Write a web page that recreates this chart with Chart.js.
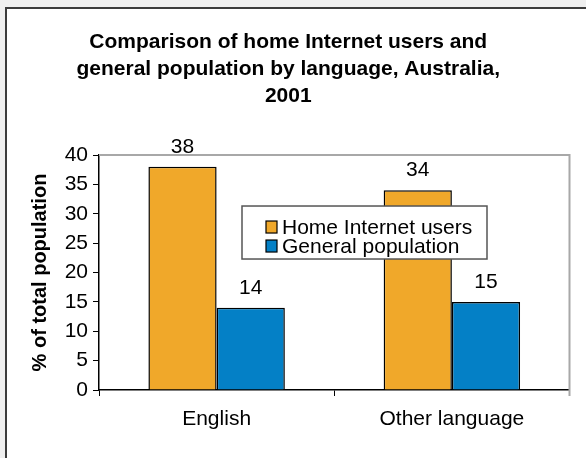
<!DOCTYPE html>
<html>
<head>
<meta charset="utf-8">
<script src="https://cdn.jsdelivr.net/npm/chart.js@4.4.1/dist/chart.umd.min.js"></script>
<style>
  body { margin: 0; background: #efefef; overflow: hidden; }
  #frame {
    position: absolute; left: 5px; top: 7px;
    width: 600px; height: 470px;
    border-left: 2px solid #3c3c3c; border-top: 2px solid #3c3c3c;
    background: #fff; overflow: hidden;
  }
  canvas { display: block; }
</style>
</head>
<body>
<div id="frame"><canvas id="chart" width="581" height="451"></canvas></div>
<script>
// Chart data
const categories = ['English', 'Other language'];
const seriesNames = ['Home Internet users', 'General population'];
const homeInternetUsers = [38, 34];
const generalPopulation = [14, 15];
const seriesColors = ['#F0A82A', '#0480C6'];
const yTicks = [0, 5, 10, 15, 20, 25, 30, 35, 40];

const titleLines = [
  'Comparison of home Internet users and',
  'general population by language, Australia,',
  '2001'
];

const FONT = "'Liberation Sans', Arial, sans-serif";

// top + right gray border of the plot area
const plotFrame = {
  id: 'plotFrame',
  afterDraw(chart) {
    const { ctx, chartArea: a } = chart;
    ctx.save();
    ctx.strokeStyle = '#a8a8a8';
    ctx.lineWidth = 2;
    ctx.beginPath();
    ctx.moveTo(a.left, a.top);
    ctx.lineTo(a.right, a.top);
    ctx.lineTo(a.right, a.bottom + 6);
    ctx.stroke();
    ctx.restore();
  }
};

// value labels above each bar
const barValues = {
  id: 'barValues',
  afterDatasetsDraw(chart) {
    const ctx = chart.ctx;
    ctx.save();
    ctx.font = '21px ' + FONT;
    ctx.fillStyle = '#000';
    ctx.textAlign = 'center';
    ctx.textBaseline = 'middle';
    chart.data.datasets.forEach((ds, i) => {
      chart.getDatasetMeta(i).data.forEach((bar, j) => {
        ctx.fillText(ds.data[j], bar.x, bar.y - 20);
      });
    });
    ctx.restore();
  }
};

// boxed legend sitting inside the plot area
const boxLegend = {
  id: 'boxLegend',
  afterDraw(chart) {
    const { ctx, chartArea: a } = chart;
    const x = a.left + 143, y = a.top + 51, w = 245, h = 53;
    ctx.save();
    ctx.fillStyle = '#fff';
    ctx.fillRect(x, y, w, h);
    ctx.strokeStyle = '#555';
    ctx.lineWidth = 1.5;
    ctx.strokeRect(x, y, w, h);
    ctx.font = '21px ' + FONT;
    ctx.textBaseline = 'middle';
    chart.data.datasets.forEach((ds, i) => {
      const cy = y + 21 + i * 19;
      ctx.fillStyle = ds.backgroundColor;
      ctx.fillRect(x + 24, cy - 6, 11, 12);
      ctx.strokeStyle = '#000';
      ctx.lineWidth = 1.2;
      ctx.strokeRect(x + 24, cy - 6, 11, 12);
      ctx.fillStyle = '#000';
      ctx.fillText(ds.label, x + 40, cy + 1);
    });
    ctx.restore();
  }
};

new Chart(document.getElementById('chart'), {
  type: 'bar',
  data: {
    labels: categories,
    datasets: [
      { label: seriesNames[0], data: homeInternetUsers, backgroundColor: seriesColors[0] },
      { label: seriesNames[1], data: generalPopulation, backgroundColor: seriesColors[1] }
    ].map(d => Object.assign(d, {
      borderColor: '#000', borderWidth: 1.5,
      barPercentage: 1, categoryPercentage: 0.58
    }))
  },
  options: {
    responsive: false,
    animation: false,
    events: [],
    layout: { padding: { left: 0, right: 18.5, top: 0, bottom: 0 } },
    plugins: {
      legend: { display: false },
      tooltip: { enabled: false },
      title: {
        display: true,
        text: titleLines,
        color: '#000',
        font: { family: FONT, size: 21, weight: 'bold', lineHeight: 1.286 },
        padding: { top: 19.5, bottom: 45.5 }
      }
    },
    scales: {
      x: {
        offset: true,
        afterFit: s => { s.height = 70; },
        grid: { display: true, drawOnChartArea: false, offset: true, tickLength: 6, color: '#000' },
        border: { display: true, color: '#000', width: 1.5 },
        ticks: { color: '#000', padding: 11, font: { family: FONT, size: 21 } }
      },
      y: {
        min: 0, max: 40,
        afterFit: s => { s.width = 92; },
        afterBuildTicks: s => { s.ticks = yTicks.map(v => ({ value: v })); },
        grid: { display: true, drawOnChartArea: false, tickLength: 6, color: '#000' },
        border: { display: true, color: '#000', width: 1.5 },
        ticks: { color: '#000', padding: 5, font: { family: FONT, size: 21 } },
        title: {
          display: true,
          text: '% of total population',
          color: '#000',
          font: { family: FONT, size: 20, weight: 'bold' },
          padding: { top: 21, bottom: 0 }
        }
      }
    }
  },
  plugins: [plotFrame, barValues, boxLegend]
});
</script>
</body>
</html>
